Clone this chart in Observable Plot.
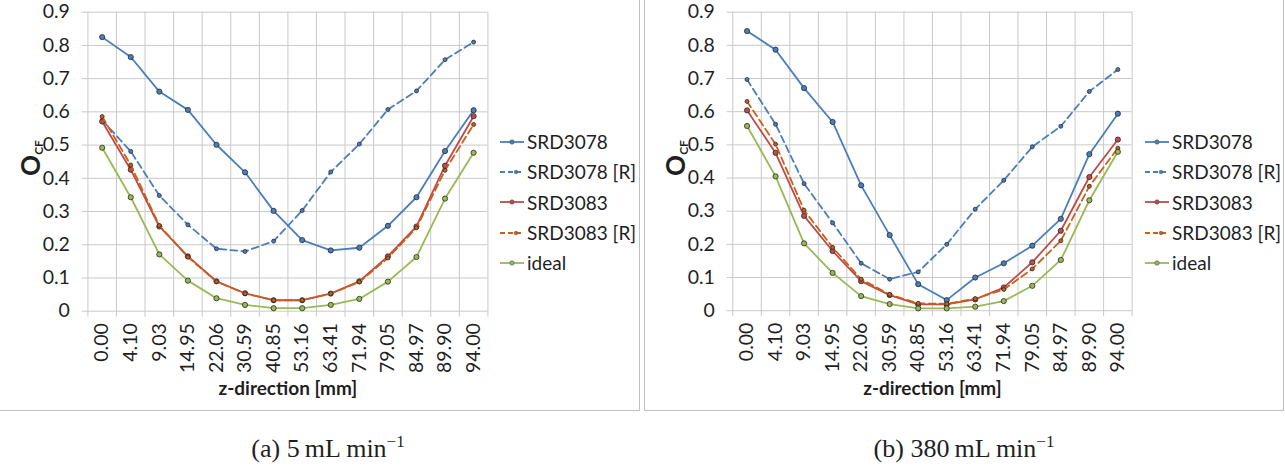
<!DOCTYPE html>
<html><head><meta charset="utf-8">
<script src="https://cdn.jsdelivr.net/npm/d3@7"></script>
<script src="https://cdn.jsdelivr.net/npm/@observablehq/plot@0.6"></script>
<style>
body{margin:0;background:#fff;width:1285px;height:471px;overflow:hidden;position:relative;font-family:Lato,sans-serif;color:#1f1f1f;}
.panel{position:absolute;top:-1px;border:1px solid #bfbfbf;box-sizing:border-box;height:412px;background:#fff;}
#pa{left:-1px;width:641px;}
#pb{left:644px;width:640px;}
.plot{position:absolute;left:0;top:0;}
.ylab{position:absolute;left:31px;top:158px;transform:translate(-50%,-50%) rotate(-90deg);font-weight:bold;font-size:26px;white-space:nowrap;line-height:1;}
.ylab sub{font-size:12px;vertical-align:-3px;}
.legend{position:absolute;left:500px;top:126.5px;font-size:19px;}
.legend .row{height:30.3px;display:flex;align-items:center;white-space:nowrap;}
.legend svg{margin-right:3px;}
.caption{position:absolute;top:436px;font-family:"Liberation Serif",serif;font-size:26px;line-height:26px;white-space:nowrap;transform:translateX(-50%);}
.caption sup{font-size:17px;vertical-align:10px;line-height:0;}
</style></head>
<body>
<div id="pa" class="panel"></div>
<div id="pb" class="panel"></div>
<div class="caption" style="left:328px">(a) 5&thinsp;mL&thinsp;min<sup>−1</sup></div>
<div class="caption" style="left:964px">(b) 380&thinsp;mL&thinsp;min<sup>−1</sup></div>
<script>
const cats = ["0.00","4.10","9.03","14.95","22.06","30.59","40.85","53.16","63.41","71.94","79.05","84.97","89.90","94.00"];
const yTicks = [0,0.1,0.2,0.3,0.4,0.5,0.6,0.7,0.8,0.9];
const seriesNames = ["SRD3078","SRD3078 [R]","SRD3083","SRD3083 [R]","ideal"];
const seriesColors = ["#4A7EBB","#4A7EBB","#BE4B48","#C8601A","#98B954"];
const seriesDashed = [false,true,false,true,false];

// panel (a) 5 mL/min
const aSRD3078  = [0.825,0.765,0.661,0.606,0.501,0.418,0.302,0.214,0.183,0.191,0.257,0.343,0.482,0.605];
const aSRD3078R = [0.575,0.481,0.348,0.260,0.188,0.180,0.211,0.303,0.419,0.503,0.607,0.663,0.757,0.810];
const aSRD3083  = [0.571,0.426,0.255,0.165,0.090,0.054,0.033,0.033,0.053,0.090,0.165,0.255,0.438,0.587];
const aSRD3083R = [0.586,0.440,0.258,0.163,0.089,0.053,0.033,0.033,0.053,0.088,0.160,0.251,0.424,0.562];
const aIdeal    = [0.492,0.343,0.171,0.092,0.039,0.019,0.009,0.009,0.019,0.037,0.089,0.163,0.339,0.477];

// panel (b) 380 mL/min
const bSRD3078  = [0.843,0.787,0.671,0.569,0.378,0.228,0.080,0.032,0.100,0.143,0.196,0.277,0.472,0.594];
const bSRD3078R = [0.697,0.562,0.383,0.265,0.143,0.095,0.117,0.200,0.306,0.393,0.494,0.556,0.661,0.727];
const bSRD3083  = [0.604,0.476,0.286,0.180,0.089,0.047,0.019,0.019,0.034,0.070,0.146,0.241,0.403,0.516];
const bSRD3083R = [0.631,0.502,0.303,0.191,0.095,0.049,0.022,0.021,0.036,0.064,0.126,0.211,0.375,0.490];
const bIdeal    = [0.557,0.405,0.203,0.114,0.044,0.020,0.007,0.007,0.012,0.029,0.075,0.153,0.333,0.479];

const idx = cats.map((_, i) => i);
const bounds = d3.range(cats.length + 1).map(i => i - 0.5);

function makePanel(el, seriesVals) {
  const marks = [
    Plot.ruleY(yTicks, {stroke: "#c9c9c9", strokeWidth: 1, insetLeft: -5.7}),
    Plot.ruleX(bounds, {stroke: "#c9c9c9", strokeWidth: 1, insetBottom: -6}),
    Plot.text(["z-direction [mm]"], {text: d => d, frameAnchor: "bottom", dy: 78, lineAnchor: "middle", fontWeight: "bold", fontSize: 19, fill: "#1f1f1f"})
  ];
  seriesVals.forEach((vals, s) => {
    const rows = vals.map((v, i) => ({i, v}));
    marks.push(Plot.line(rows, {x: "i", y: "v", stroke: seriesColors[s], strokeWidth: 1.8,
      strokeDasharray: seriesDashed[s] ? "7,4" : null}));
    marks.push(Plot.dot(rows, {x: "i", y: "v", r: seriesDashed[s] ? 2 : 2.6, fill: seriesColors[s],
      stroke: "#2a2a2a", strokeWidth: 0.8}));
  });
  const chart = Plot.plot({
    width: 639, height: 410,
    marginLeft: 87.4, marginRight: 151.6, marginTop: 11.7, marginBottom: 99.3,
    style: {fontFamily: "Lato, sans-serif", fontSize: "19.5px", color: "#1f1f1f", background: "transparent", overflow: "visible"},
    x: {type: "linear", domain: [-0.5, 13.5], ticks: idx, tickFormat: i => cats[i], tickRotate: -90, tickSize: 0, tickPadding: 12, label: null},
    y: {domain: [0, 0.9], ticks: yTicks, tickFormat: d => d === 0 ? "0" : d.toFixed(1), tickSize: 0, tickPadding: 18, label: null},
    marks
  });
  chart.classList.add("plot");
  el.appendChild(chart);

  const yl = document.createElement("div");
  yl.className = "ylab";
  yl.innerHTML = "O<sub>CF</sub>";
  el.appendChild(yl);

  const lg = document.createElement("div");
  lg.className = "legend";
  seriesNames.forEach((name, s) => {
    const row = document.createElement("div");
    row.className = "row";
    const dash = seriesDashed[s] ? ' stroke-dasharray="5,3"' : "";
    row.innerHTML = `<svg width="24" height="10"><line x1="0" y1="5" x2="24" y2="5" stroke="${seriesColors[s]}" stroke-width="1.8"${dash}/><circle cx="${seriesDashed[s] ? 16 : 12}" cy="5" r="${seriesDashed[s] ? 1.8 : 2.2}" fill="${seriesColors[s]}" stroke="#555" stroke-width="0.6"/></svg><span>${name}</span>`;
    lg.appendChild(row);
  });
  el.appendChild(lg);
}

makePanel(document.getElementById("pa"), [aSRD3078, aSRD3078R, aSRD3083, aSRD3083R, aIdeal]);
makePanel(document.getElementById("pb"), [bSRD3078, bSRD3078R, bSRD3083, bSRD3083R, bIdeal]);
</script>
</body></html>
